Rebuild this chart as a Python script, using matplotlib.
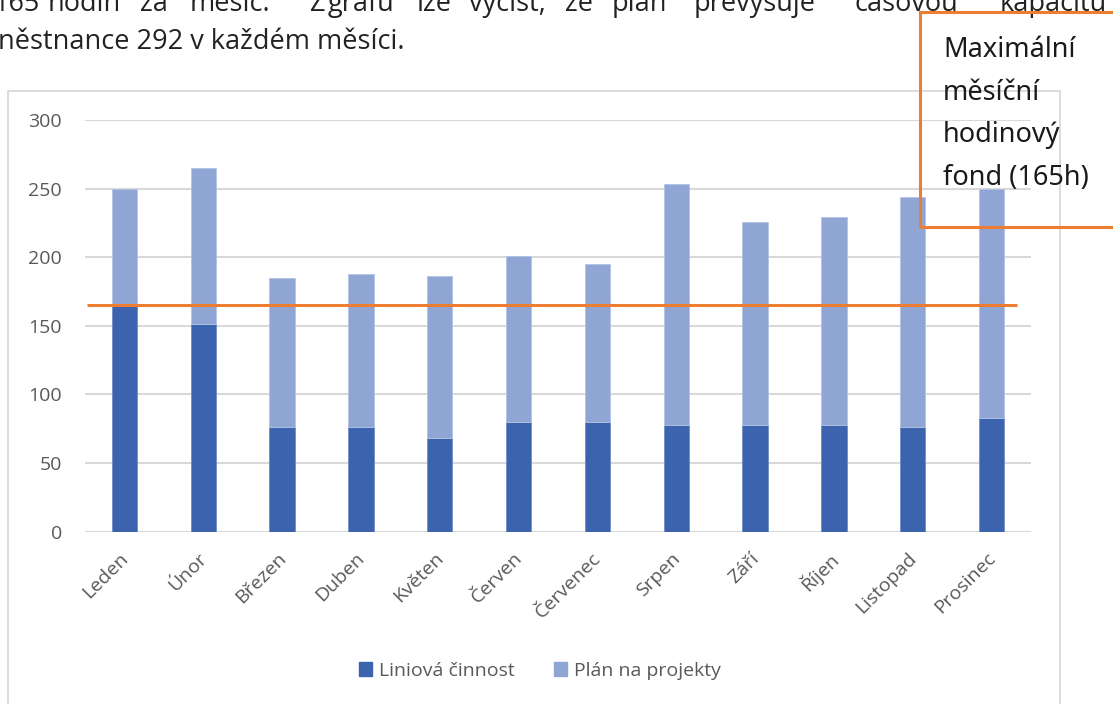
import matplotlib.pyplot as plt
import matplotlib.transforms as mtransforms
from matplotlib.patches import Rectangle, Patch

W, H = 1113, 704

mesice = ['Leden', 'Únor', 'Březen', 'Duben', 'Květen', 'Červen',
          'Červenec', 'Srpen', 'Září', 'Říjen', 'Listopad', 'Prosinec']
liniova = [165, 151, 76, 76, 68, 80, 80, 78, 78, 78, 76, 83]
projekty = [85, 114, 109, 112, 118, 121, 115, 175, 148, 151, 168, 167]
fond = 165

tmava = '#3C64AE'
svetla = '#8FA5D4'
oranzova = '#ED7D31'
seda = '#595959'
mrizka = '#D9D9D9'

plt.rcParams['font.family'] = ['Open Sans', 'DejaVu Sans']


def fx(x):
    return x / W


def fy(y):
    return 1 - y / H


fig = plt.figure(figsize=(W / 100, H / 100), dpi=100)

# text odstavce nad grafem (oříznutý, zarovnaný do bloku)
slova = [('165', -6), ('hodin', 48), ('za', 140), ('měsíc.', 190), ('Z', 310),
         ('grafu', 328), ('lze', 417), ('vyčíst,', 469), ('že', 565), ('plán', 612),
         ('převyšuje', 694), ('časovou', 855), ('kapacitu', 1000)]
for slovo, x in slova:
    fig.text(fx(x), fy(11), slovo, fontsize=19.5, color='#222222', va='baseline')
fig.text(fx(-2), fy(49), 'něstnance 292 v každém měsíci.', fontsize=19.5,
         color='#222222', va='baseline')

# rámeček grafu
fig.patches.append(Rectangle((fx(8), fy(760)), fx(1060) - fx(8), fy(91) - fy(760),
                             transform=fig.transFigure, fill=False,
                             edgecolor=mrizka, lw=1.3))

ax = fig.add_axes([fx(85), fy(531.7), fx(1031) - fx(85), fy(120) - fy(531.7)])
x = range(len(mesice))
ax.bar(x, liniova, width=0.32, color=tmava, edgecolor='#6F8CC4', lw=0.6,
       label='Liniová činnost', zorder=3)
ax.bar(x, projekty, width=0.32, bottom=liniova, color=svetla, edgecolor='#B4C3E6',
       lw=0.6, label='Plán na projekty', zorder=3)

ax.set_xlim(-0.5, 11.5)
ax.set_ylim(0, 300)
ax.set_yticks(range(0, 301, 50))
ax.yaxis.grid(True, color=mrizka, lw=1.5, zorder=0)
for s in ax.spines.values():
    s.set_visible(False)
ax.tick_params(axis='both', length=0, labelsize=14, labelcolor=seda)
ax.tick_params(axis='y', pad=16.5)
ax.set_xticks(list(x))
ax.set_xticklabels(mesice, rotation=45, ha='right', va='center',
                   rotation_mode='anchor')
posun = mtransforms.ScaledTranslation(1 / 100, -19 / 100, fig.dpi_scale_trans)
for lab in ax.get_xticklabels():
    lab.set_transform(lab.get_transform() + posun)

# maximální měsíční fond
ax.plot([-0.47, 11.32], [fond, fond], color=oranzova, lw=2.2, zorder=4,
        solid_capstyle='butt')

ax.legend(handles=[Patch(color=tmava, label='Liniová činnost'),
                   Patch(color=svetla, label='Plán na projekty')],
          loc='center', bbox_to_anchor=(fx(540), fy(671)),
          bbox_transform=fig.transFigure, ncol=2, frameon=False, fontsize=14,
          labelcolor=seda, handlelength=0.7, handleheight=0.7,
          handletextpad=0.35, columnspacing=2.0)

# popisek v oranžovém rámečku
fig.patches.append(Rectangle((fx(920), fy(226.5)), fx(1200) - fx(920),
                             fy(11.5) - fy(226.5), transform=fig.transFigure,
                             fill=False, edgecolor=oranzova, lw=2.2, zorder=10))
radky = ['Maximální', 'měsíční', 'hodinový', 'fond (165h)']
for i, radek in enumerate(radky):
    fig.text(fx(943), fy(57 + i * 42.7), radek, fontsize=19.5,
             family=['Noto Sans', 'DejaVu Sans'], color='#1a1a1a',
             va='baseline', ha='left')

fig.savefig('out.png', dpi=100)
